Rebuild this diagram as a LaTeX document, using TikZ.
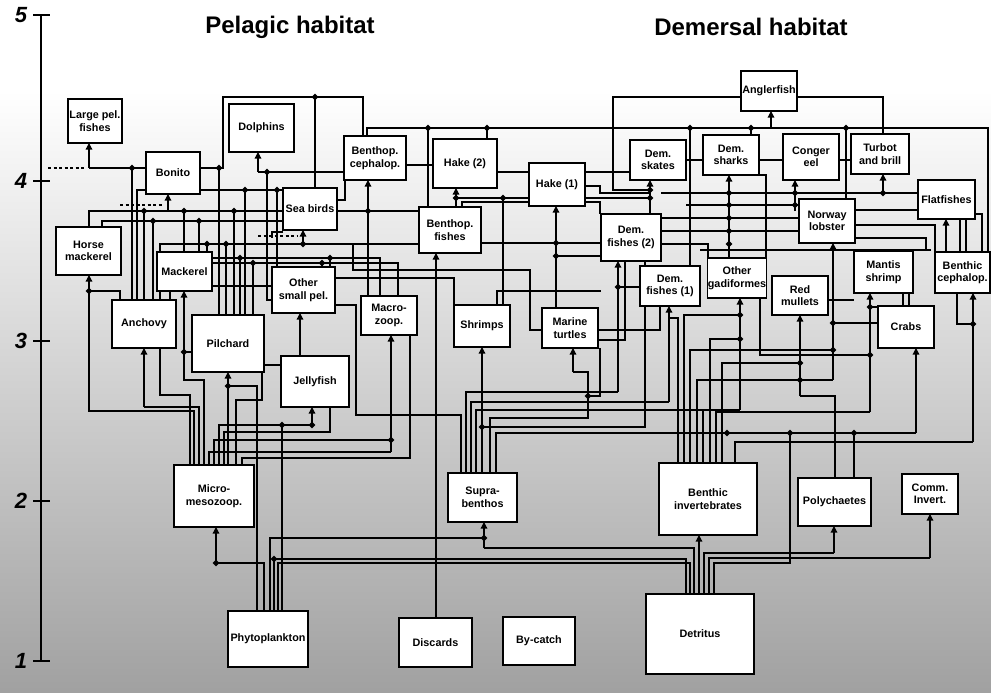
\documentclass[tikz,border=0pt]{standalone}
\usepackage{fontspec}
\setmainfont{Liberation Sans}
\usetikzlibrary{arrows.meta}
\newcommand\jd[2]{\fill (#1,#2) ++(0,-3.3) -- ++(3.3,3.3) -- ++(-3.3,3.3) -- ++(-3.3,-3.3) -- cycle;}
\begin{document}
\begin{tikzpicture}[x=1pt,y=-1pt,
 box/.style={draw,line width=1.6pt,fill=white,align=center,inner sep=0.5pt,font=\bfseries\fontsize{10.8}{12.5}\selectfont},
 w/.style={line width=1.2pt},
 ar/.style={line width=1.2pt,-{Triangle[length=6.5pt,width=6.5pt]}},
 dsh/.style={line width=1.2pt,dash pattern=on 3pt off 2.5pt},
 axl/.style={font=\bfseries\itshape\fontsize{22}{22}\selectfont},
 ttl/.style={font=\bfseries\fontsize{24}{24}\selectfont}]
\useasboundingbox (0,0) rectangle (991,693);
\fill[white] (0,0) rectangle (991,90);
\shade[top color=white,bottom color=black!37] (0,90) rectangle (991,693);

% axis
\draw[line width=1.4pt] (41,15) -- (41,661);
\foreach \yy in {15,181,341,501,661} \draw[line width=1.4pt] (33,\yy) -- (50,\yy);
\node[axl] (a5) at (21,15) {5};
\node[axl] (a4) at (21,181) {4};
\node[axl] (a3) at (21,341) {3};
\node[axl] (a2) at (21,501) {2};
\node[axl] (a1) at (21,661) {1};
\node[ttl] (tp) at (290,27) {Pelagic habitat};
\node[ttl] (td) at (751,27) {Demersal habitat};

% ---------- pelagic wires ----------
\draw[dsh] (48,168)--(84,168);
\draw[w] (89,168)--(146,168);
\draw[ar] (89,168)--(89,143);
\draw[w] (132,168)--(132,300); \jd{132}{168}
\draw[w] (200,168)--(223,168)--(223,97)--(363,97)--(363,136);
\draw[w] (219,168)--(219,315); \jd{219}{168}
\draw[w] (315,97)--(315,188); \jd{315}{97}
\draw[ar] (258,172)--(258,152);
\draw[w] (258,172)--(344,172);
\draw[w] (267,172)--(267,300)--(272,300); \jd{267}{172}
\draw[w] (137,300)--(137,190)--(283,190);
\jd{245}{190}\jd{277}{190}
\draw[w] (245,190)--(245,315);
\draw[w] (277,190)--(277,267);
\draw[dsh] (120,205)--(163,205);
\draw[ar] (168,211)--(168,194);
\draw[w] (89,227)--(89,211)--(283,211);
\jd{144}{211}\jd{184}{211}\jd{234}{211}
\draw[w] (144,211)--(144,300);
\draw[w] (184,211)--(184,252);
\draw[w] (234,211)--(234,315);
\draw[w] (102,227)--(102,221)--(283,221);
\jd{153}{221}\jd{199}{221}
\draw[w] (153,221)--(153,300);
\draw[w] (199,221)--(199,252);
\draw[dsh] (258,236)--(298,236);
\draw[w] (160,300)--(160,244)--(419,244);
\draw[ar] (303,244)--(303,230); \jd{303}{244}
\jd{226}{244}\jd{207}{244}
\draw[w] (226,244)--(226,315);
\draw[w] (207,244)--(207,252);
\draw[w] (170,300)--(170,258)--(380,258)--(380,296);
\jd{240}{258}\jd{330}{258}
\draw[w] (240,258)--(240,315);
\draw[w] (330,258)--(330,267);
\draw[w] (212,263)--(398,263)--(398,296);
\jd{253}{263}\jd{322}{263}
\draw[w] (253,263)--(253,315);
\draw[w] (322,263)--(322,267);
\draw[w] (335,278)--(454,278)--(454,305);
\draw[w] (353,244)--(353,270)--(530,270)--(530,330)--(542,330);
\draw[w] (212,286)--(272,286);
\draw[w] (337,200)--(345,200)--(345,180);
\draw[w] (283,232)--(272,232)--(272,238);

% micro-mesozoop bundle
\draw[w] (194,465)--(194,411)--(89,411)--(89,291);
\draw[ar] (89,291)--(89,275); \jd{89}{291}
\draw[w] (89,291)--(120,291)--(120,300);
\draw[w] (199,465)--(199,407)--(144,407);
\draw[ar] (144,407)--(144,348);
\draw[w] (190,465)--(190,395)--(160,395)--(160,348);
\draw[w] (204,465)--(204,380)--(184,380)--(184,352);
\draw[ar] (184,352)--(184,291); \jd{184}{352}
\draw[w] (184,352)--(192,352);
\draw[w] (228,465)--(228,386);
\draw[ar] (228,386)--(228,372); \jd{228}{386}
\draw[w] (228,386)--(257,386)--(257,611);
\draw[w] (236,465)--(236,400)--(262,400)--(262,372);
\draw[w] (209,465)--(209,452)--(391,452);
\draw[ar] (391,452)--(391,335);
\draw[w] (214,465)--(214,440)--(391,440); \jd{391}{440}
\draw[w] (219,465)--(219,425)--(312,425);
\draw[ar] (312,425)--(312,407); \jd{312}{425}
\draw[w] (282,425)--(282,611); \jd{282}{425}
\draw[w] (224,465)--(224,432)--(330,432)--(330,407);
\draw[w] (242,465)--(242,458)--(410,458)--(410,335);
\draw[ar] (300,356)--(300,313);
\draw[w] (264,365)--(281,365);
\draw[w] (461,473)--(461,415)--(356,415)--(356,305)--(335,305);

% phytoplankton bundle
\draw[w] (264,611)--(264,563)--(216,563);
\draw[ar] (216,563)--(216,527); \jd{216}{563}
\draw[w] (270,611)--(270,538)--(484,538); \jd{484}{538}
\draw[w] (274,611)--(274,559)--(686,559)--(686,594); \jd{274}{559}
\draw[w] (278,611)--(278,563)--(690,563)--(690,594);
\draw[ar] (436,618)--(436,253);

% ---------- demersal wires ----------
\draw[w] (367,136)--(367,128)--(988,128)--(988,252);
\draw[ar] (771,128)--(771,111);
\foreach \xx in {428,487,690,751,846} {\jd{\xx}{128}}
\draw[w] (428,128)--(428,207);
\draw[w] (487,128)--(487,139);
\draw[w] (690,128)--(690,266);
\draw[w] (751,128)--(751,135);
\draw[w] (846,128)--(846,199);
\draw[w] (650,190)--(613,190)--(613,97)--(741,97);
\draw[w] (797,97)--(883,97)--(883,134);
\draw[w] (406,165)--(433,165);
\draw[w] (497,172)--(529,172);
\draw[w] (585,172)--(630,172);
\draw[w] (686,160)--(703,160);
\draw[w] (759,160)--(783,160);
\draw[w] (839,160)--(851,160);
\draw[ar] (368,211)--(368,180);
\draw[w] (337,211)--(419,211); \jd{368}{211}
\draw[w] (368,211)--(368,296);
\draw[ar] (456,207)--(456,188);
\draw[w] (456,198)--(650,198); \jd{456}{198}\jd{503}{198}
\draw[w] (503,198)--(503,305);
\draw[w] (462,207)--(462,202)--(600,202)--(600,214);
\draw[w] (585,186)--(600,186)--(600,193)--(650,193);
\draw[ar] (556,308)--(556,206);
\draw[w] (481,243)--(601,243); \jd{556}{243}
\draw[w] (556,256)--(645,256)--(645,266); \jd{556}{256}
\draw[ar] (650,214)--(650,180); \jd{650}{190}\jd{650}{198}
\draw[w] (661,193)--(960,193);
\draw[ar] (729,258)--(729,175);
\foreach \yy in {193,205,218,231,244} {\jd{729}{\yy}}
\draw[w] (686,205)--(799,205);
\draw[w] (661,218)--(799,218);
\draw[w] (661,231)--(799,231);
\draw[w] (661,244)--(708,244)--(708,258);
\draw[w] (700,250)--(930,250)--(930,251);
\draw[w] (759,175)--(766,175)--(766,258);
\draw[ar] (883,193)--(883,174); \jd{883}{193}
\draw[ar] (795,211)--(795,180); \jd{795}{193}\jd{795}{205}
\draw[w] (855,210)--(918,210);
\draw[w] (855,225)--(935,225)--(935,252);
\draw[w] (855,238)--(926,238)--(926,251);
\draw[ar] (946,252)--(946,219);
\draw[w] (960,193)--(960,252);
\draw[w] (966,219)--(966,252);
\draw[w] (975,214)--(982,214)--(982,252);
\draw[ar] (833,380)--(833,243); \jd{833}{323}\jd{833}{350}
\draw[w] (833,323)--(878,323);
\draw[ar] (618,392)--(618,261); \jd{618}{287}
\draw[w] (618,287)--(640,287);
\draw[w] (497,305)--(497,291)--(601,291);
\draw[w] (598,330)--(660,330)--(660,306);
\draw[w] (828,300)--(854,300);
\draw[w] (903,293)--(903,306);
\draw[w] (909,293)--(909,306);
\draw[w] (598,340)--(625,340)--(625,261);

% suprabenthos bundle
\draw[ar] (482,473)--(482,347); \jd{482}{427}
\draw[w] (482,427)--(645,427)--(645,306);
\draw[w] (466,473)--(466,392)--(618,392);
\draw[w] (471,473)--(471,402)--(669,402);
\draw[ar] (669,402)--(669,306);
\draw[w] (476,473)--(476,410)--(740,410);
\draw[w] (490,473)--(490,418)--(588,418)--(588,372)--(573,372);
\draw[ar] (573,372)--(573,348); \jd{588}{396}
\draw[w] (588,396)--(600,396)--(600,348);
\draw[w] (496,473)--(496,433)--(916,433);

% benthic invertebrates bundle
\draw[w] (678,463)--(678,318)--(669,318);
\draw[w] (684,463)--(684,315)--(740,315);
\draw[w] (690,463)--(690,350)--(833,350);
\draw[w] (697,463)--(697,380)--(833,380);
\draw[w] (703,463)--(703,410);
\draw[ar] (740,410)--(740,298); \jd{740}{315}\jd{740}{339}
\draw[w] (710,463)--(710,339)--(740,339);
\draw[w] (716,463)--(716,412)--(870,412);
\draw[ar] (870,412)--(870,293); \jd{870}{307}\jd{870}{355}
\draw[w] (870,307)--(878,307);
\draw[w] (870,355)--(760,355)--(760,298);
\draw[w] (722,463)--(722,363)--(800,363);
\draw[ar] (800,396)--(800,315); \jd{800}{363}\jd{800}{380}
\draw[w] (800,396)--(835,396)--(835,478);
\draw[ar] (916,433)--(916,348);
\foreach \xx in {727,790,854} {\jd{\xx}{433}}
\draw[w] (854,433)--(854,478);
\draw[w] (735,463)--(735,442)--(973,442);
\draw[ar] (973,442)--(973,293); \jd{973}{324}
\draw[w] (957,293)--(957,324)--(973,324);

% detritus bundle
\draw[ar] (484,548)--(484,522);
\draw[w] (694,594)--(694,548)--(484,548);
\draw[ar] (699,594)--(699,535);
\draw[w] (704,594)--(704,553)--(834,553);
\draw[ar] (834,553)--(834,526);
\draw[w] (709,594)--(709,558)--(930,558);
\draw[ar] (930,558)--(930,514);
\draw[w] (714,594)--(714,563)--(790,563)--(790,433);

% ---------- boxes ----------
\node[box,minimum width=54pt,minimum height=44pt] (LP) at (95,121) {Large pel.\\fishes};
\node[box,minimum width=65pt,minimum height=48pt] (DO) at (261.5,128) {Dolphins};
\node[box,minimum width=54pt,minimum height=42pt] (BO) at (173,173) {Bonito};
\node[box,minimum width=54pt,minimum height=42pt] (SB) at (310,209) {Sea birds};
\node[box,minimum width=62pt,minimum height=44pt] (BC) at (375,158) {Benthop.\\cephalop.};
\node[box,minimum width=64pt,minimum height=49pt] (H2) at (465,163.5) {Hake (2)};
\node[box,minimum width=56pt,minimum height=43pt] (H1) at (557,184.5) {Hake (1)};
\node[box,minimum width=56pt,minimum height=40pt] (DS) at (658,160) {Dem.\\skates};
\node[box,minimum width=56pt,minimum height=40pt] (AF) at (769,91) {Anglerfish};
\node[box,minimum width=56pt,minimum height=40pt] (DSh) at (731,155) {Dem.\\sharks};
\node[box,minimum width=56pt,minimum height=46pt] (CE) at (811,157) {Conger\\eel};
\node[box,minimum width=58pt,minimum height=40pt] (TB) at (880,154) {Turbot\\and brill};
\node[box,minimum width=57pt,minimum height=39pt] (FF) at (946.5,199.5) {Flatfishes};
\node[box,minimum width=56pt,minimum height=44pt] (NL) at (827,221) {Norway\\lobster};
\node[box,minimum width=62pt,minimum height=46pt] (BF) at (450,230) {Benthop.\\fishes};
\node[box,minimum width=60pt,minimum height=47pt] (DF2) at (631,237.5) {Dem.\\fishes (2)};
\node[box,minimum width=60pt,minimum height=40pt] (DF1) at (670,286) {Dem.\\fishes (1)};
\node[box,minimum width=58pt,minimum height=40pt] (OG) at (737,278) {Other\\gadiformes};
\node[box,minimum width=56pt,minimum height=39pt] (RM) at (800,295.5) {Red\\mullets};
\node[box,minimum width=59pt,minimum height=42pt] (MS) at (883.5,272) {Mantis\\shrimp};
\node[box,minimum width=55pt,minimum height=41pt] (BCe) at (962.5,272.5) {Benthic\\cephalop.};
\node[box,minimum width=56pt,minimum height=42pt] (CR) at (906,327) {Crabs};
\node[box,minimum width=65pt,minimum height=48pt] (HM) at (88.5,251) {Horse\\mackerel};
\node[box,minimum width=55pt,minimum height=39pt] (MK) at (184.5,271.5) {Mackerel};
\node[box,minimum width=64pt,minimum height=48pt] (AN) at (144,324) {Anchovy};
\node[box,minimum width=72pt,minimum height=57pt] (PI) at (228,343.5) {Pilchard};
\node[box,minimum width=63pt,minimum height=46pt] (OS) at (303.5,290) {Other\\small pel.};
\node[box,minimum width=68pt,minimum height=51pt] (JF) at (315,381.5) {Jellyfish};
\node[box,minimum width=56pt,minimum height=39pt] (MZ) at (389,315.5) {Macro-\\zoop.};
\node[box,minimum width=56pt,minimum height=42pt] (SH) at (482,326) {Shrimps};
\node[box,minimum width=56pt,minimum height=40pt] (MT) at (570,328) {Marine\\turtles};
\node[box,minimum width=80pt,minimum height=62pt] (MM) at (214,496) {Micro-\\mesozoop.};
\node[box,minimum width=80pt,minimum height=56pt] (PP) at (268,639) {Phytoplankton};
\node[box,minimum width=69pt,minimum height=49pt] (SU) at (482.5,497.5) {Supra-\\benthos};
\node[box,minimum width=73pt,minimum height=49pt] (DI) at (435.5,642.5) {Discards};
\node[box,minimum width=72pt,minimum height=48pt] (BY) at (539,641) {By-catch};
\node[box,minimum width=98pt,minimum height=72pt] (BI) at (708,499) {Benthic\\invertebrates};
\node[box,minimum width=73pt,minimum height=48pt] (PO) at (834.5,502) {Polychaetes};
\node[box,minimum width=56pt,minimum height=40pt] (CI) at (930,494) {Comm.\\Invert.};
\node[box,minimum width=108pt,minimum height=80pt] (DE) at (700,634) {Detritus};
\end{tikzpicture}
\end{document}
